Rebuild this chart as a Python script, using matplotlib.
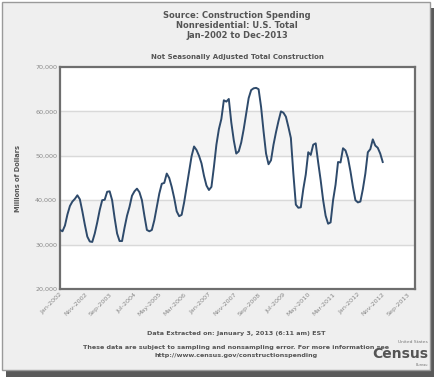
import numpy as np
import matplotlib; matplotlib.use("Agg")
import matplotlib.pyplot as plt
from matplotlib.patches import Rectangle

# monthly nonresidential construction, NSA, millions of dollars (Jan-2002 .. Nov-2012)
y2002 = [33300, 33000, 34300, 36800, 38700, 39700, 40300, 41100, 40200, 37500, 34500, 31800]
y2003 = [30700, 30600, 32500, 35000, 37800, 40000, 40100, 41900, 42000, 40000, 36000, 32500]
y2004 = [30800, 30800, 33800, 36500, 38500, 41000, 42000, 42600, 41800, 40000, 36500, 33300]
y2005 = [33000, 33300, 35500, 38500, 41500, 43700, 43900, 46000, 45000, 43000, 40500, 37500]
y2006 = [36400, 36700, 39500, 43000, 46500, 49900, 52100, 51300, 50000, 48300, 45500, 43300]
y2007 = [42300, 43000, 47500, 52500, 56000, 58300, 62500, 62200, 62800, 57500, 53500, 50500]
y2008 = [51000, 53000, 56000, 59500, 63000, 64800, 65200, 65300, 65000, 61000, 55500, 50500]
y2009 = [48100, 49000, 52500, 55300, 57800, 60000, 59700, 58800, 56500, 54000, 46000, 39000]
y2010 = [38300, 38400, 42500, 45800, 50800, 50200, 52500, 52800, 48500, 44500, 40000, 36500]
y2011 = [34700, 35000, 40000, 43500, 48600, 48500, 51700, 51200, 49500, 46500, 43000, 40000]
y2012 = [39500, 39700, 42500, 46000, 50800, 51500, 53700, 52300, 51800, 50500, 48600]
spending = y2002 + y2003 + y2004 + y2005 + y2006 + y2007 + y2008 + y2009 + y2010 + y2011 + y2012

tick_labels = ["Jan-2002", "Nov-2002", "Sep-2003", "Jul-2004", "May-2005", "Mar-2006",
               "Jan-2007", "Nov-2007", "Sep-2008", "Jul-2009", "May-2010", "Mar-2011",
               "Jan-2012", "Nov-2012", "Sep-2013"]
y_ticks = [20000, 30000, 40000, 50000, 60000, 70000]

W, H = 439, 377
fig = plt.figure(figsize=(W/100, H/100), dpi=100)
fig.patch.set_facecolor("white")
# frame + shadow like the screenshot
fig.add_artist(Rectangle((6/W, 0), 428/W, 1-8/H, transform=fig.transFigure, fc="#5a5a5a", ec="none", zorder=0))
fig.add_artist(Rectangle((2/W, 7/H), 428/W, 1-9/H, transform=fig.transFigure, fc="#efefef", ec="#9a9a9a", lw=1, zorder=0))

ax = fig.add_axes([60/W, 1-289/H, 355/W, 222/H])
ax.set_facecolor("white")
for lo in (30000, 50000):
    ax.axhspan(lo, lo+10000, color="#f4f4f4", zorder=0)
for v in y_ticks[1:-1]:
    ax.axhline(v, color="#d9d9d9", lw=1, zorder=1)

x = np.arange(len(spending))
ax.plot(x, spending, color="#2e4a6b", lw=1.4, zorder=3)

ax.set_xlim(0, 143)
ax.set_ylim(20000, 70000)
ax.set_yticks(y_ticks)
ax.set_yticklabels([f"{v:,}" for v in y_ticks], fontsize=4.6, color="#888888")
ax.set_xticks(np.arange(len(tick_labels))*10)
ax.set_xticklabels(tick_labels, rotation=45, ha="right", rotation_mode="anchor", fontsize=4.6, color="#888888")
ax.tick_params(length=0, pad=2)
for s in ax.spines.values():
    s.set_color("#6e6e6e"); s.set_linewidth(1.6)
ax.set_ylabel("Millions of Dollars", fontsize=4.8, fontweight="bold", color="#555555", labelpad=10)

tc = "#555555"
fig.text(237/W, 1-15/H, "Source: Construction Spending", ha="center", va="center", fontsize=6, fontweight="bold", color=tc)
fig.text(237/W, 1-25/H, "Nonresidential: U.S. Total", ha="center", va="center", fontsize=6, fontweight="bold", color=tc)
fig.text(237/W, 1-35/H, "Jan-2002 to Dec-2013", ha="center", va="center", fontsize=6, fontweight="bold", color=tc)
fig.text(237/W, 1-57/H, "Not Seasonally Adjusted Total Construction", ha="center", va="center", fontsize=5, fontweight="bold", color=tc)
fig.text(236/W, 1-333/H, "Data Extracted on: January 3, 2013 (6:11 am) EST", ha="center", va="center", fontsize=4.6, fontweight="bold", color=tc)
fig.text(236/W, 1-348/H, "These data are subject to sampling and nonsampling error. For more information see", ha="center", va="center", fontsize=4.6, fontweight="bold", color=tc)
fig.text(236/W, 1-356/H, "http://www.census.gov/constructionspending", ha="center", va="center", fontsize=4.6, fontweight="bold", color=tc)
# census logo
fig.text(428/W, 1-342/H, "United States", ha="right", va="center", fontsize=3.2, color="#777777")
fig.text(428/W, 1-354/H, "Census", ha="right", va="center", fontsize=10, fontweight="bold", color="#555555")
fig.text(428/W, 1-365/H, "Bureau", ha="right", va="center", fontsize=2.5, color="#777777")

fig.savefig("out.png", dpi=100)
